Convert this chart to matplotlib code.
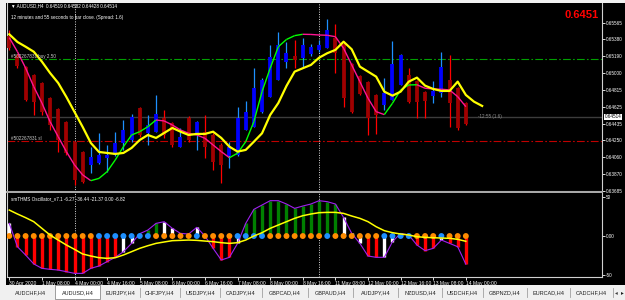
import numpy as np
import matplotlib.pyplot as plt
from matplotlib.patches import Rectangle
from matplotlib.collections import LineCollection
from matplotlib.transforms import blended_transform_factory

# --- chart data (AUDUSD H4, 30 Apr - 14 May 2020) ---

highs = [0.65486, 0.65218, 0.65083, 0.64994, 0.64904, 0.64737, 0.64614, 0.64468, 0.64244, 0.64132,
         0.64177, 0.64334, 0.64199, 0.64345, 0.64479, 0.64546, 0.64625, 0.64535, 0.64759, 0.64591,
         0.64457, 0.64390, 0.64524, 0.64468, 0.64535, 0.64334, 0.64222, 0.64233, 0.64625, 0.64692,
         0.65061, 0.64949, 0.65318, 0.65464, 0.65352, 0.65374, 0.65397, 0.65330, 0.65374, 0.65609,
         0.65553, 0.65341, 0.65117, 0.64983, 0.64916, 0.64770, 0.64949, 0.65363, 0.65218, 0.65061,
         0.64927, 0.64804, 0.64916, 0.65240, 0.65207, 0.64848, 0.64681]
lows = [0.65263, 0.65061, 0.64692, 0.64535, 0.64535, 0.64367, 0.64121, 0.64088, 0.63752, 0.63774,
        0.63886, 0.63987, 0.63897, 0.64076, 0.64144, 0.64233, 0.64289, 0.64199, 0.64345, 0.64278,
        0.64177, 0.64177, 0.64233, 0.64144, 0.64054, 0.63920, 0.63774, 0.63942, 0.64076, 0.64367,
        0.64401, 0.64558, 0.64737, 0.64927, 0.65061, 0.65061, 0.65061, 0.65195, 0.65240, 0.65285,
        0.65005, 0.64625, 0.64558, 0.64759, 0.64311, 0.64323, 0.64591, 0.64703, 0.64871, 0.64669,
        0.64502, 0.64502, 0.64669, 0.64737, 0.64401, 0.64367, 0.64423]
body_open = [0.65419, 0.65195, 0.65072, 0.64983, 0.64893, 0.64725, 0.64602, 0.64457, 0.64233, 0.64121,
             0.63976, 0.63998, 0.64054, 0.64088, 0.64222, 0.64255, 0.64614, 0.64334, 0.64345, 0.64502,
             0.64446, 0.64177, 0.64502, 0.64311, 0.64345, 0.64311, 0.64199, 0.64076, 0.64088, 0.64367,
             0.64401, 0.64569, 0.64737, 0.64927, 0.65128, 0.65195, 0.65173, 0.65218, 0.65263, 0.65285,
             0.65397, 0.65330, 0.65106, 0.64972, 0.64904, 0.64759, 0.64647, 0.64703, 0.64871, 0.64983,
             0.64916, 0.64793, 0.64748, 0.64781, 0.64927, 0.64837, 0.64669]
body_close = [0.65285, 0.65083, 0.64703, 0.64681, 0.64569, 0.64423, 0.64255, 0.64110, 0.63808, 0.63785,
              0.64065, 0.64088, 0.64088, 0.64222, 0.64367, 0.64513, 0.64311, 0.64423, 0.64546, 0.64311,
              0.64199, 0.64289, 0.64255, 0.64457, 0.64177, 0.64009, 0.63976, 0.64177, 0.64502, 0.64569,
              0.64837, 0.64927, 0.65184, 0.65318, 0.65229, 0.65151, 0.65318, 0.65296, 0.65318, 0.65486,
              0.65229, 0.64725, 0.64569, 0.64770, 0.64502, 0.64535, 0.64781, 0.65106, 0.65207, 0.64681,
              0.64681, 0.64692, 0.64804, 0.65072, 0.64669, 0.64390, 0.64434]

# slow yellow average (shifted 2 bars forward)
yellow_ma = [0.65438, 0.65352, 0.65299, 0.65243, 0.65132, 0.65005, 0.64893, 0.64737, 0.64569, 0.64401,
             0.64222, 0.64121, 0.64110, 0.64099, 0.64110, 0.64166, 0.64255, 0.64311, 0.64278, 0.64334,
             0.64390, 0.64348, 0.64311, 0.64323, 0.64323, 0.64348, 0.64278, 0.64180, 0.64125, 0.64144,
             0.64236, 0.64330, 0.64535, 0.64669, 0.64860, 0.65020, 0.65058, 0.65095, 0.65176, 0.65226,
             0.65263, 0.65355, 0.65270, 0.65076, 0.65020, 0.64964, 0.64796, 0.64751, 0.64796, 0.64908,
             0.64953, 0.64863, 0.64826, 0.64804, 0.64804, 0.64908, 0.64759, 0.64684, 0.64636]
# fast trend line (green rising / pink falling)
trend_ma = [0.65400, 0.65243, 0.65061, 0.64852, 0.64669, 0.64460, 0.64292, 0.64125, 0.63976, 0.63864,
            0.63800, 0.63825, 0.63901, 0.64032, 0.64180, 0.64311, 0.64348, 0.64404, 0.64479, 0.64468,
            0.64423, 0.64367, 0.64330, 0.64311, 0.64274, 0.64199, 0.64125, 0.64057, 0.64107, 0.64236,
            0.64460, 0.64796, 0.65058, 0.65299, 0.65380, 0.65423, 0.65438, 0.65436, 0.65430, 0.65427,
            0.65411, 0.65282, 0.65095, 0.64908, 0.64722, 0.64572, 0.64539, 0.64666, 0.64815, 0.64871,
            0.64873, 0.64834, 0.64826, 0.64823, 0.64815, 0.64740, 0.64628]

price_ticks = [0.65565, 0.65380, 0.65190, 0.65000, 0.64815, 0.64625, 0.64435, 0.64250, 0.64060, 0.63870, 0.63685]
bid = 0.64514
buy_level = 0.65159
sl_level = 0.64241

# oscillator
osc_hist = [16.3, -13.8, -24.5, -36.0, -41.7, -43.0, -43.9, -46.0, -48.2, -48.2,
            -41.7, -38.7, -33.0, -27.5, -20.2, -9.5, 3.0, 7.7, 16.3, 18.5,
            9.9, 3.4, 2.6, 11.2, 0.0, -15.9, -31.0, -27.5, -9.5, 16.3,
            34.4, 40.0, 45.6, 45.6, 41.3, 35.7, 38.7, 41.3, 45.6, 44.3,
            41.3, 24.0, 3.4, -9.5, -25.8, -27.5, -27.5, -7.3, 3.4, 1.3,
            -11.6, -18.9, -15.9, -5.2, -9.5, -13.8, -36.4]
osc_state = ['w', 'r', 'r', 'r', 'r', 'r', 'r', 'r', 'r', 'r',
             'r', 'r', 'r', 'r', 'w', 'w', 'w', 'g', 'g', 'w',
             'w', 'w', 'w', 'w', 'w', 'r', 'r', 'r', 'w', 'g',
             'g', 'g', 'g', 'g', 'g', 'g', 'g', 'g', 'g', 'g',
             'g', 'w', 'w', 'w', 'r', 'r', 'w', 'w', 'w', 'w',
             'r', 'r', 'r', 'w', 'r', 'r', 'r']
osc_signal = [33.5, 28.4, 23.7, 18.5, 9.9, 1.3, -5.2, -11.6, -17.2, -23.2,
              -25.8, -28.0, -28.8, -28.0, -24.5, -20.2, -15.9, -12.5, -9.5, -7.7,
              -6.0, -5.6, -5.2, -5.6, -6.5, -7.3, -8.6, -9.5, -8.6, -5.2,
              0.0, 4.3, 9.9, 14.2, 18.5, 22.8, 26.2, 28.4, 30.1, 30.5,
              30.5, 29.2, 25.8, 22.8, 18.5, 12.0, 6.9, 4.3, 2.6, 1.3,
              -0.9, -1.7, -2.2, -2.6, -3.0, -4.3, -6.8]
dot_state = (['o'] * 11 + ['b'] * 7 + ['o'] * 5 + ['b'] + ['o'] * 4 + ['b'] * 4 + ['o'] * 7
             + ['b'] + ['o'] * 6 + ['b'] * 4 + ['o'] * 3 + ['b'] + ['o'] * 3)

time_labels = ['30 Apr 2020', '1 May 08:00', '4 May 00:00', '4 May 16:00', '5 May 08:00',
               '6 May 00:00', '6 May 16:00', '7 May 08:00', '8 May 00:00', '8 May 16:00',
               '11 May 08:00', '12 May 00:00', '12 May 16:00', '13 May 08:00', '14 May 00:00']
week_starts = [8, 38]

tabs = ['AUDCHF,H4', 'AUDUSD,H4', 'EURJPY,H4', 'CHFJPY,H4', 'USDJPY,H4', 'CADJPY,H4', 'GBPCAD,H4',
        'GBPAUD,H4', 'AUDJPY,H4', 'NZDUSD,H4', 'USDCHF,H4', 'GBPNZD,H4', 'EURCAD,H4', 'CADCHF,H4']
active_tab = 'AUDUSD,H4'

# --- layout helpers (pixel -> figure fraction) ---
W, H = 625, 300


def fx(px):
    return px / W


def fy(py):
    return 1 - py / H


FONT = ['Liberation Sans', 'DejaVu Sans']
plt.rcParams['font.family'] = FONT

fig = plt.figure(figsize=(6.25, 3.0), dpi=100, facecolor='#f0f0f0')
fig.add_artist(Rectangle((fx(6), fy(285)), 1 - fx(6), 282 / H, transform=fig.transFigure,
                         facecolor='black', edgecolor='none', zorder=-1))

ax1 = fig.add_axes([fx(7), fy(192), 595 / W, 189 / H])
ax2 = fig.add_axes([fx(7), fy(276.7), 595 / W, 83.7 / H])
XMIN, XMAX = -0.28, 72.7

# --- price panel ---
ax1.set_facecolor('black')
idx = np.arange(len(highs))
up = np.array(body_close) > np.array(body_open)
wick_cols = np.where(up, '#1e90ff', '#ff0000')
body_cols = np.where(up, '#0000ff', '#a00000')

ax1.axhline(bid, color='#3c3c3c', lw=1, zorder=1)
ax1.axhline(buy_level, color='#00a000', lw=0.8, ls=(0, (7, 2, 1.5, 2)), zorder=1)
ax1.axhline(sl_level, color='#c00000', lw=0.8, ls=(0, (7, 2, 1.5, 2)), zorder=1)
for w in week_starts:
    ax1.axvline(w, color='#dddddd', lw=0.7, ls=(0, (1, 1.5)), zorder=1)

ax1.vlines(idx, lows, highs, colors=wick_cols, lw=0.9, zorder=2)
ax1.vlines(idx, body_open, body_close, colors=body_cols, lw=2.7, zorder=3)

ax1.plot(np.arange(len(yellow_ma)), yellow_ma, color='#ffff00', lw=1.6, zorder=5)

pts = np.column_stack([np.arange(len(trend_ma)), trend_ma])
segs = np.stack([pts[:-1], pts[1:]], axis=1)
seg_cols = ['#00ff00' if b > a else '#ff1493' for a, b in zip(trend_ma[:-1], trend_ma[1:])]
ax1.add_collection(LineCollection(segs, colors=seg_cols, lw=1.0, zorder=4))

ax1.set_xlim(XMIN, XMAX)
ax1.set_ylim(0.63673, 0.65788)
ax1.yaxis.tick_right()
ax1.set_yticks(price_ticks)
ax1.set_yticklabels([f'{v:.5f}' for v in price_ticks])
ax1.tick_params(axis='y', colors='white', labelsize=3.3, length=2, width=0.6, pad=1)
ax1.tick_params(axis='x', bottom=False, labelbottom=False)
for s in ['left', 'right']:
    ax1.spines[s].set_color('#d0d0d0')
    ax1.spines[s].set_linewidth(0.8)
ax1.spines['top'].set_visible(False)
ax1.spines['bottom'].set_color('#a8a8a8')
ax1.spines['bottom'].set_linewidth(1.5)

ax1.text(0.2, buy_level + 0.00003, '#502267831 buy 2.50', color='#c8c8c8', fontsize=3.3,
         va='bottom', ha='left', zorder=6)
ax1.text(0.2, sl_level + 0.00003, '#502267831 sl', color='#c8c8c8', fontsize=3.3,
         va='bottom', ha='left', zorder=6)
ax1.text(57.5, bid, '-12:55 (1.6)', color='#909090', fontsize=3.3, va='center', ha='left', zorder=6)
tr = blended_transform_factory(ax1.transAxes, ax1.transData)
ax1.text(1.004, bid, f'{bid:.5f}', transform=tr, color='black', fontsize=3.3, va='center', ha='left',
         bbox=dict(facecolor='white', edgecolor='none', pad=0.6), zorder=7, clip_on=False)

# --- oscillator panel ---
ax2.set_facecolor('black')
hist_map = {'r': '#ff0000', 'g': '#008000', 'w': '#ffffff'}
dot_map = {'o': '#ff8c00', 'b': '#1e90ff'}
for w in week_starts:
    ax2.axvline(w, color='#dddddd', lw=0.7, ls=(0, (1, 1.5)), zorder=1)
ax2.vlines(idx, 0, osc_hist, colors=[hist_map[c] for c in osc_state], lw=2.4, zorder=2)
ax2.plot(idx, osc_hist, color='#a020f0', lw=0.8, zorder=3)
ax2.scatter(idx, np.zeros(len(idx)), s=18, c=[dot_map[c] for c in dot_state], linewidths=0, zorder=4)
ax2.plot(idx, osc_signal, color='#ffff00', lw=1.1, zorder=5)

ax2.set_xlim(XMIN, XMAX)
ax2.set_ylim(-52.5, 55.5)
ax2.yaxis.tick_right()
ax2.set_yticks([50, 0, -50])
ax2.set_yticklabels(['50', '0.00', '-50'])
ax2.tick_params(axis='y', colors='white', labelsize=3.3, length=2, width=0.6, pad=1)
ax2.set_xticks(np.arange(0, len(idx), 4))
ax2.set_xticklabels(time_labels, ha='left')
ax2.tick_params(axis='x', colors='white', labelsize=3.6, length=2, width=0.6, pad=1)
for s in ['left', 'right', 'bottom']:
    ax2.spines[s].set_color('#d0d0d0')
    ax2.spines[s].set_linewidth(0.8)
ax2.spines['top'].set_visible(False)
ax2.text(0.006, 0.93, 'smTHMS Oscillator_v7.1 -6.27 -36.44 -21.37 0.00 -6.82', transform=ax2.transAxes,
         color='white', fontsize=3.3, va='center', ha='left')

# --- header texts ---
fig.text(fx(11), fy(6), '\u25bc AUDUSD,H4  0.64519 0.64582 0.64428 0.64514', color='white',
         fontsize=3.3, va='center', ha='left')
fig.text(fx(11), fy(17), '12 minutes and 55 seconds to bar close. (Spread: 1.6)', color='white',
         fontsize=3.3, va='center', ha='left')
fig.text(fx(599), fy(15), '0.6451', color='#ff0000', fontsize=8, fontweight='bold',
         va='center', ha='right')

# --- tab bar ---
tab_edges = [7, 55, 100, 140, 180, 220, 262, 308, 353, 398, 442, 483, 527, 570, 613]
for name, x0, x1 in zip(tabs, tab_edges[:-1], tab_edges[1:]):
    if name == active_tab:
        fig.add_artist(Rectangle((fx(x0), fy(299)), fx(x1 - x0), 14 / H, transform=fig.transFigure,
                                 facecolor='white', edgecolor='#8c8c8c', lw=0.6))
    else:
        fig.add_artist(plt.Line2D([fx(x1), fx(x1)], [fy(297), fy(288)], transform=fig.transFigure,
                                  color='#a0a0a0', lw=0.6))
    fig.text(fx((x0 + x1) / 2), fy(292.5), name, color='#202020', fontsize=4, ha='center', va='center')
fig.add_artist(Rectangle((fx(613), fy(300)), fx(12), 15 / H, transform=fig.transFigure,
                         facecolor='#f0f0f0', edgecolor='none'))
fig.text(fx(616), fy(292.5), '\u25c2', color='#404040', fontsize=4, ha='center', va='center',
         family=['DejaVu Sans'])
fig.text(fx(622), fy(292.5), '\u25b8', color='#202020', fontsize=4, ha='center', va='center',
         family=['DejaVu Sans'])

fig.savefig('out.png', dpi=100, facecolor=fig.get_facecolor())
